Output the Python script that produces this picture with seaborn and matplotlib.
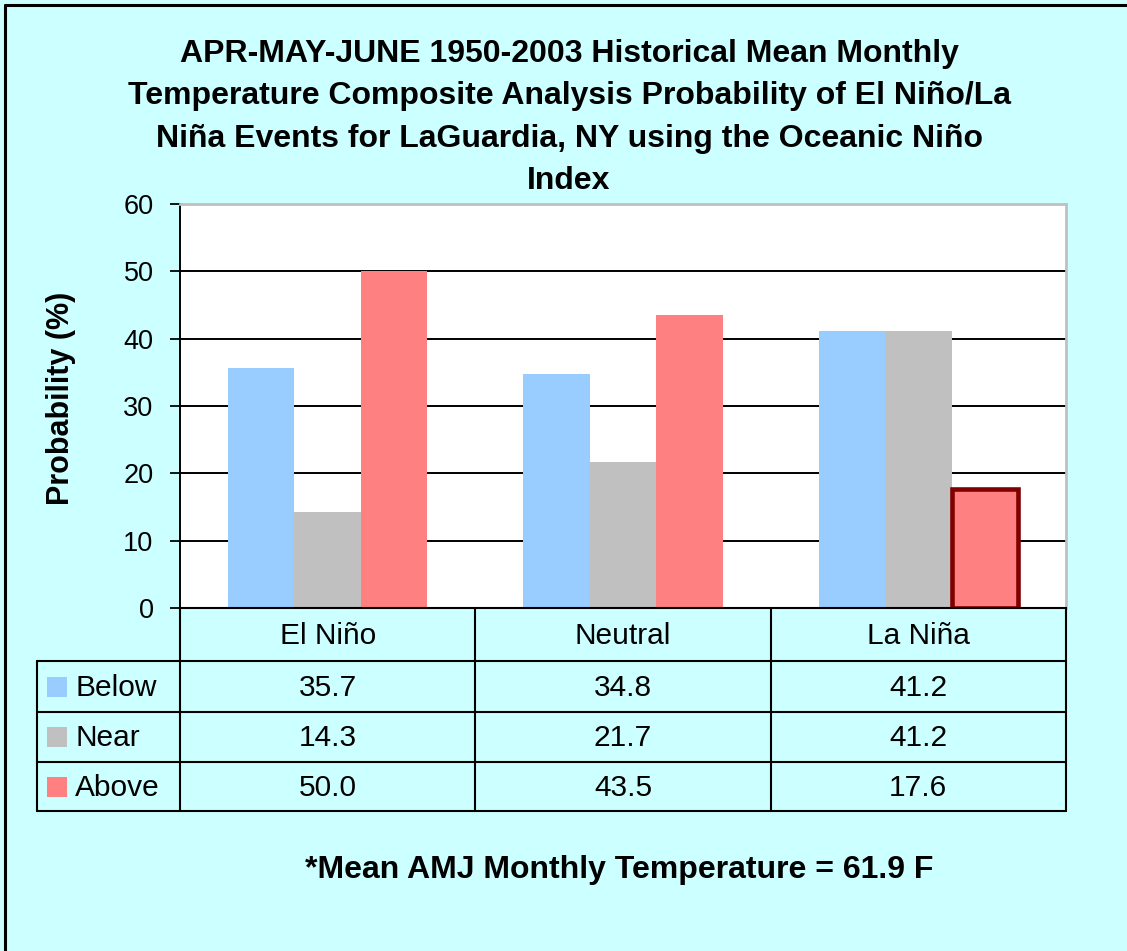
import pandas as pd
import numpy as np
import matplotlib.pyplot as plt
import seaborn as sns

# data
events = ['El Niño', 'Neutral', 'La Niña']
categories = ['Below', 'Near', 'Above']
below = [35.7, 34.8, 41.2]
near = [14.3, 21.7, 41.2]
above = [50.0, 43.5, 17.6]
yticks = [0, 10, 20, 30, 40, 50, 60]

title_lines = ['APR-MAY-JUNE 1950-2003 Historical Mean Monthly',
               'Temperature Composite Analysis Probability of El Niño/La',
               'Niña Events for LaGuardia, NY using the Oceanic Niño',
               'Index']
footer = '*Mean AMJ Monthly Temperature = 61.9 F'

colors = ['#99CCFF', '#C0C0C0', '#FF8080']
bg = '#CCFFFF'

sns.set_style('white')
plt.rcParams['font.family'] = ['Liberation Sans', 'DejaVu Sans']
plt.rcParams['text.color'] = 'black'
plt.rcParams['axes.labelcolor'] = 'black'
plt.rcParams['ytick.color'] = 'black'

W, H = 1127, 951
fig = plt.figure(figsize=(W / 100, H / 100), dpi=100, facecolor=bg)

# plot area in pixel terms
L, R, T, B = 180, 1066, 204, 608
ax = fig.add_axes([L / W, 1 - B / H, (R - L) / W, (B - T) / H])
ax.set_facecolor('white')

df = pd.DataFrame({
    'Event': events * 3,
    'Category': np.repeat(categories, len(events)),
    'Probability': below + near + above,
})
sns.barplot(data=df, x='Event', y='Probability', hue='Category',
            order=events, hue_order=categories, palette=colors,
            width=0.675, gap=0, saturation=1, linewidth=0,
            legend=False, ax=ax, zorder=3)

# the highlighted La Nina "Above" bar
hl = ax.containers[2][2]
hl.set_edgecolor('#800000')
hl.set_linewidth(3.3)

ax.set_xlim(-0.5, 2.5)
ax.set_ylim(0, 60)
ax.set_yticks(yticks)
ax.tick_params(axis='y', direction='out', length=7, width=1.3, color='black',
               labelcolor='black', pad=12, labelsize=19.5, left=True)
ax.tick_params(axis='x', bottom=False, labelbottom=False)
ax.set_xlabel('')
ax.yaxis.grid(True, color='black', linewidth=1.4, zorder=1)
ax.set_axisbelow(True)
gl = ax.get_ygridlines()
gl[0].set_visible(False)
gl[-1].set_visible(False)

ax.set_ylabel('Probability (%)', fontsize=22, fontweight='bold', color='black')
ax.yaxis.set_label_coords(-0.117, 0.52)

for s in ['top', 'right']:
    ax.spines[s].set_color('#C0C0C0')
    ax.spines[s].set_linewidth(2)
ax.spines['left'].set_color('black')
ax.spines['left'].set_linewidth(1.4)
ax.spines['bottom'].set_color('black')
ax.spines['bottom'].set_linewidth(1.4)

# overlay in pixel coordinates for title, table, footer and frame
ov = fig.add_axes([0, 0, 1, 1], zorder=5)
ov.set_xlim(0, W)
ov.set_ylim(H, 0)
ov.axis('off')
ov.patch.set_alpha(0)

# outer frame
ov.plot([5, 5], [5, H + 5], color='black', lw=2.2)
ov.plot([5, W + 5], [5, 5], color='black', lw=2.2)

# title
for i, line in enumerate(title_lines):
    ov.text(569, 62 + i * 42.3, line, ha='center', va='baseline',
            fontsize=23, fontweight='bold', color='black')

# data table
rows_y = [608, 661, 712, 762, 811]
x0 = 37
colw = (R - L) / 3
cols_x = [L + k * colw for k in range(4)]
lw = 1.5
ov.plot([L, R], [rows_y[0], rows_y[0]], color='black', lw=lw)
for y in rows_y[1:]:
    ov.plot([x0, R], [y, y], color='black', lw=lw)
for x in cols_x:
    ov.plot([x, x], [rows_y[0], rows_y[-1]], color='black', lw=lw)
ov.plot([x0, x0], [rows_y[1], rows_y[-1]], color='black', lw=lw)

tsize = 21.5
for k, ev in enumerate(events):
    ov.text(cols_x[k] + colw / 2, (rows_y[0] + rows_y[1]) / 2 + 1, ev,
            ha='center', va='center', fontsize=tsize, color='black')

series = [below, near, above]
for r, (cat, vals, c) in enumerate(zip(categories, series, colors)):
    yc = (rows_y[r + 1] + rows_y[r + 2]) / 2
    ov.add_patch(plt.Rectangle((47, yc - 10), 20, 20, facecolor=c,
                               edgecolor='none'))
    ov.text(75, yc + 1, cat, ha='left', va='center', fontsize=tsize,
            color='black')
    for k, v in enumerate(vals):
        ov.text(cols_x[k] + colw / 2, yc + 1, f'{v:.1f}',
                ha='center', va='center', fontsize=tsize, color='black')

# footer note
ov.text(619, 870, footer, ha='center', va='center', fontsize=23,
        fontweight='bold', color='black')

fig.savefig('out.png', dpi=100, facecolor=bg)
